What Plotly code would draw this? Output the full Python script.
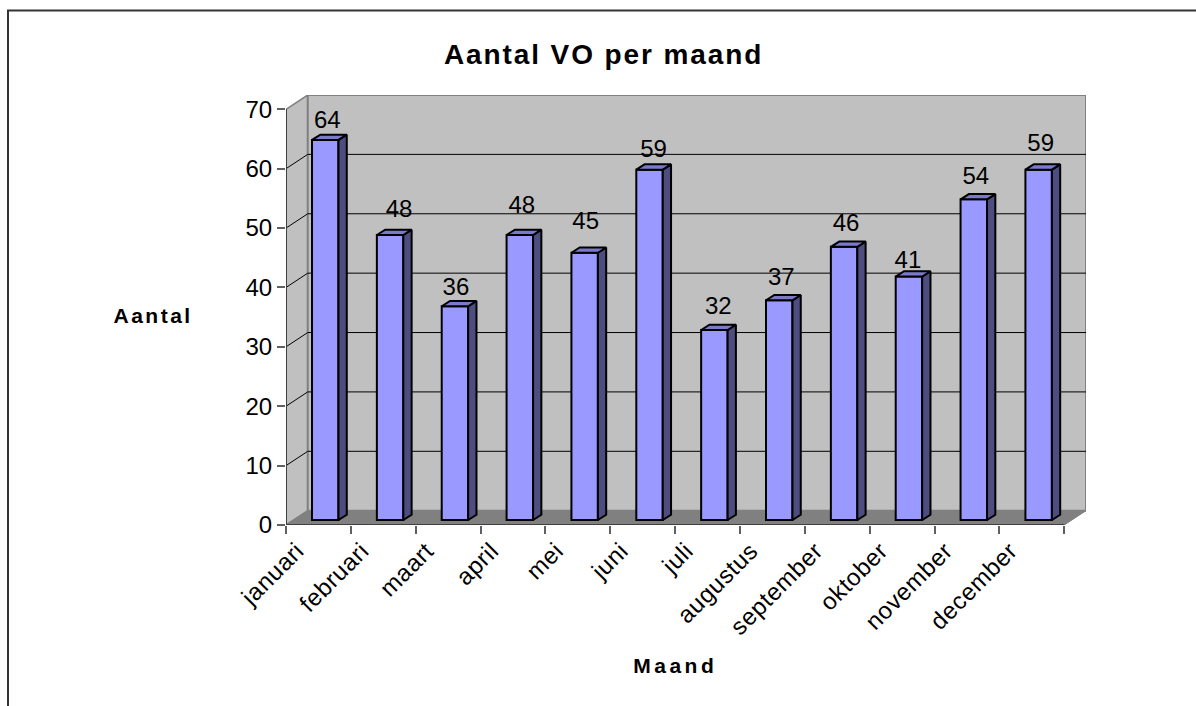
import plotly.graph_objects as go

months = ["januari", "februari", "maart", "april", "mei", "juni", "juli",
          "augustus", "september", "oktober", "november", "december"]
counts = [64, 48, 36, 48, 45, 59, 32, 37, 46, 41, 54, 59]
y_ticks = [0, 10, 20, 30, 40, 50, 60, 70]

W, H = 1196, 706
# plot box in px (includes the pseudo-3D depth)
L, R, T, B = 286, 1086, 95, 525
# oblique depth of the box, and of the bars, in axis units
DX, DY = 0.335, 2.41
BAR_W = 0.408
BAR_SHIFT, BAR_BASE = 0.105, 0.84
BAR_DX, BAR_DY = 0.128, 0.89
# value-label placement relative to its bar, in px
LABEL_LIFT = [18, 24, 17, 28, 30, 19, 22, 21, 22, 15, 21, 25]
LABEL_SHIFT = [2, 9, 1, 2, 1, 4, 4, 2, 2, -1, 2, 2]
LABEL_ANCHOR_SHIFT = -0.33

FRONT, SIDE, TOP = "#9999ff", "#4d4d80", "#7a7acc"
WALL, FLOOR, EDGE = "#c0c0c0", "#808080", "#808080"
FONT = "Liberation Sans, Arial, sans-serif"

n = len(months)
x0, x1 = -0.5, n - 0.5
ymax = y_ticks[-1]
xs = list(range(n))
px_x = (x1 + DX - x0) / (R - L)
px_y = (ymax + DY) / (B - T)

def poly(px, py, color, line=None, lw=1):
    d = "M " + " L ".join(f"{a},{b}" for a, b in zip(px, py)) + " Z"
    return dict(type="path", path=d, xref="x", yref="y", layer="below",
                fillcolor=color, line=dict(color=line or color, width=lw))

shapes = [
    poly([x0, x0 + DX, x0 + DX, x0], [0, DY, ymax + DY, ymax], WALL, EDGE, 1.5),
    poly([x0 + DX, x1 + DX, x1 + DX, x0 + DX], [DY, DY, ymax + DY, ymax + DY], WALL, EDGE, 2),
    poly([x0, x1, x1 + DX, x0 + DX], [0, 0, DY, DY], FLOOR),
]
for t in y_ticks[1:-1]:
    shapes.append(dict(type="line", xref="x", yref="y", layer="below",
                       x0=x0, y0=t, x1=x0 + DX, y1=t + DY, line=dict(color="#000000", width=1)))
    shapes.append(dict(type="line", xref="x", yref="y", layer="below",
                       x0=x0 + DX, y0=t + DY, x1=x1 + DX, y1=t + DY, line=dict(color="#000000", width=1)))
# page frame: only its top and left edges fall inside the picture
shapes.append(dict(type="rect", xref="paper", yref="paper", layer="below",
                   x0=(8 - L) / (R - L), x1=(1260 - L) / (R - L),
                   y0=(B - 760) / (B - T), y1=(B - 10.5) / (B - T),
                   line=dict(color="#333333", width=2), fillcolor="rgba(0,0,0,0)"))

fig = go.Figure()
fig.add_trace(go.Bar(x=[i + BAR_SHIFT for i in xs], y=counts, base=BAR_BASE, width=BAR_W,
                     marker=dict(color=FRONT, line=dict(color="#000000", width=2)),
                     showlegend=False, hoverinfo="y"))

line = dict(color="#000000", width=2)
for i, v in zip(xs, counts):
    a = i + BAR_SHIFT - BAR_W / 2
    b = i + BAR_SHIFT + BAR_W / 2
    t = BAR_BASE + v
    fig.add_trace(go.Scatter(x=[b, b + BAR_DX, b + BAR_DX, b, b],
                             y=[BAR_BASE, BAR_BASE + BAR_DY, t + BAR_DY, t, BAR_BASE],
                             mode="lines", fill="toself", fillcolor=SIDE, line=line,
                             showlegend=False, hoverinfo="skip"))
    fig.add_trace(go.Scatter(x=[a, a + BAR_DX, b + BAR_DX, b, a],
                             y=[t, t + BAR_DY, t + BAR_DY, t, t],
                             mode="lines", fill="toself", fillcolor=TOP, line=line,
                             showlegend=False, hoverinfo="skip"))

fig.add_trace(go.Scatter(x=[i + BAR_SHIFT + s * px_x for i, s in zip(xs, LABEL_SHIFT)],
                         y=[v + BAR_BASE + h * px_y for v, h in zip(counts, LABEL_LIFT)],
                         mode="text", text=[str(v) for v in counts], textposition="middle center",
                         textfont=dict(family=FONT, size=24, color="#000000"),
                         showlegend=False, hoverinfo="skip", cliponaxis=False))
# axis lines stop at the front of the box
axis_line = dict(color="#404040", width=2)
fig.add_trace(go.Scatter(x=[x0, x1], y=[0, 0], mode="lines", line=axis_line,
                         showlegend=False, hoverinfo="skip", cliponaxis=False))
fig.add_trace(go.Scatter(x=[x0, x0], y=[0, ymax], mode="lines", line=axis_line,
                         showlegend=False, hoverinfo="skip", cliponaxis=False))

fig.update_layout(
    width=W, height=H, paper_bgcolor="#ffffff", plot_bgcolor="#ffffff",
    margin=dict(l=L, r=W - R, t=T, b=H - B, pad=0),
    shapes=shapes, showlegend=False,
    font=dict(family=FONT, size=24, color="#000000"),
    xaxis=dict(range=[x0, x1 + DX], tickmode="array",
               tickvals=[i + LABEL_ANCHOR_SHIFT for i in xs], ticktext=months,
               tickangle=-45, ticks="", showgrid=False, zeroline=False, showline=False,
               ticklabelstandoff=6,
               tickfont=dict(family=FONT, size=24),
               minor=dict(tickmode="array", tickvals=[i - 0.5 for i in range(n + 1)],
                          ticks="outside", ticklen=8, tickwidth=2, tickcolor="#606060",
                          showgrid=False)),
    yaxis=dict(range=[0, ymax + DY], tickmode="array", tickvals=y_ticks,
               ticks="outside", ticklen=8, tickwidth=2, tickcolor="#606060",
               showgrid=False, zeroline=False, showline=False,
               tickfont=dict(family=FONT, size=24)),
    annotations=[
        dict(text="<b>Aantal VO per maand</b>", xref="paper", yref="paper",
             x=(603 - L) / (R - L), y=(B - 54) / (B - T), showarrow=False,
             xanchor="center", yanchor="middle", font=dict(family=FONT, size=28)),
        dict(text="<b>Aantal</b>", xref="paper", yref="paper",
             x=(153 - L) / (R - L), y=(B - 315) / (B - T), showarrow=False,
             xanchor="center", yanchor="middle", font=dict(family=FONT, size=21)),
        dict(text="<b>Maand</b>", xref="paper", yref="paper",
             x=(675 - L) / (R - L), y=(B - 665) / (B - T), showarrow=False,
             xanchor="center", yanchor="middle", font=dict(family=FONT, size=21)),
    ],
)

# the source chart's text is slightly letter-spaced
POST = """
document.body.style.margin='0';
document.querySelectorAll('.annotation-text').forEach(function(e){
  var s = e.textContent;
  e.style.letterSpacing = s.indexOf('VO')>=0 ? '1.9px' : (s.indexOf('Maand')>=0 ? '3.5px' : '2.5px');
});
document.querySelectorAll('.xtick text').forEach(function(e){ e.style.letterSpacing='0.6px'; });
"""
fig.write_html("out.html", config=dict(displayModeBar=False), post_script=POST)
